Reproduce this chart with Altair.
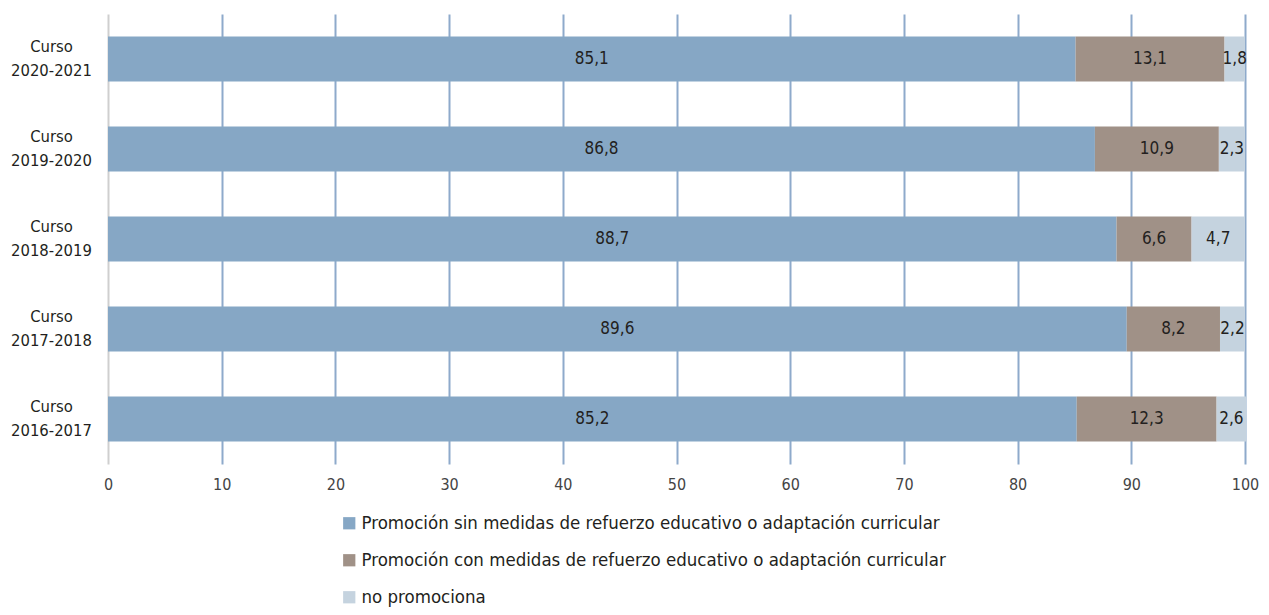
import altair as alt
import pandas as pd

cursos = ["Curso 2020-2021", "Curso 2019-2020", "Curso 2018-2019", "Curso 2017-2018", "Curso 2016-2017"]
series = [
    "Promoción sin medidas de refuerzo educativo o adaptación curricular",
    "Promoción con medidas de refuerzo educativo o adaptación curricular",
    "no promociona",
]
sin_medidas = [85.1, 86.8, 88.7, 89.6, 85.2]
con_medidas = [13.1, 10.9, 6.6, 8.2, 12.3]
no_promociona = [1.8, 2.3, 4.7, 2.2, 2.6]
colores = ["#86a7c5", "#a09187", "#c5d3df"]
x_ticks = [0, 10, 20, 30, 40, 50, 60, 70, 80, 90, 100]

rows = []
for i, c in enumerate(cursos):
    for k, vals in enumerate([sin_medidas, con_medidas, no_promociona]):
        v = vals[i]
        rows.append({"curso": c, "serie": series[k], "orden": k, "valor": v,
                     "etiqueta": f"{v:.1f}".replace(".", ",")})
df = pd.DataFrame(rows)

FONT = "DejaVu Sans Condensed, Roboto, Liberation Sans, sans-serif"

base = alt.Chart(df).transform_stack(
    stack="valor", groupby=["curso"], as_=["x0", "x1"], sort=[alt.SortField("orden")]
).transform_calculate(mid="(datum.x0 + datum.x1) / 2")

y_enc = alt.Y(
    "curso:N", sort=cursos, title=None,
    scale=alt.Scale(paddingInner=0.5, paddingOuter=0.25),
    axis=alt.Axis(
        domain=False, ticks=False, tickSize=0, grid=False,
        labelExpr="split(datum.label, ' ')", labelAlign="center", labelBaseline="middle",
        labelPadding=57, labelOffset=-12, labelFontSize=16.5, labelLineHeight=24, labelColor="#231f20",
        labelFont=FONT,
    ),
)

bars = base.mark_bar().encode(
    x=alt.X(
        "x0:Q", title=None, scale=alt.Scale(domain=[0, 100], nice=False),
        axis=alt.Axis(
            values=x_ticks, domain=False, ticks=False, tickSize=0, grid=True,
            gridColor={"condition": {"test": "datum.value === 0", "value": "#cfcfcf"}, "value": "#8eaacb"},
            gridWidth=2, labelFontSize=16, labelColor="#444444", labelPadding=12,
            labelFont=FONT, labelFlush=False,
        ),
    ),
    x2="x1:Q",
    y=y_enc,
    color=alt.Color(
        "serie:N", title=None,
        scale=alt.Scale(domain=series, range=colores),
        legend=alt.Legend(
            orient="none", legendX=232, legendY=500, direction="vertical",
            symbolType="square", symbolSize=150, symbolStrokeWidth=0,
            labelFontSize=18.5, labelFont=FONT, labelColor="#231f20",
            labelLimit=1000, rowPadding=18, labelOffset=3, padding=0,
        ),
    ),
)

texts = base.mark_text(fontSize=17, font=FONT, color="#231f20", baseline="middle").encode(
    x=alt.X("mid:Q"),
    y=alt.Y("curso:N", sort=cursos),
    text="etiqueta:N",
)

chart = alt.layer(bars, texts).properties(
    width=1137, height=450,
    autosize=alt.AutoSizeParams(type="none"),
    padding={"left": 100, "top": 6, "right": 16, "bottom": 143},
).configure_view(stroke=None)

chart.save("out.html", embed_options={"renderer": "svg", "actions": False})
